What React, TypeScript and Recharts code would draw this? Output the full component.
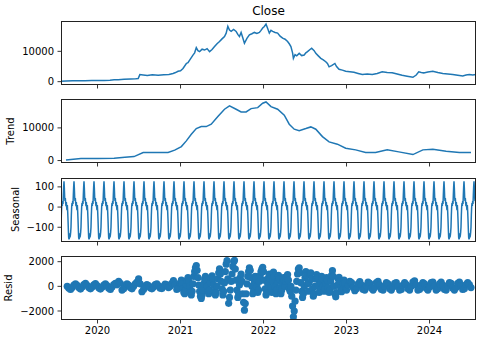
import { LineChart, Line, ScatterChart, Scatter, XAxis, YAxis } from 'recharts'

const BLUE = '#1f77b4'
const FONT = 'DejaVu Sans, sans-serif'

// shared time axis (fractional years)
const xDomain = [2019.56, 2024.56]
const yearTicks = [2020, 2021, 2022, 2023, 2024]

// Close (observed)
const closeYears = [
  2019.56, 2019.62, 2019.7, 2019.76, 2019.85, 2019.93, 2020.0, 2020.08, 2020.15, 2020.2,
  2020.25, 2020.32, 2020.4, 2020.46, 2020.49, 2020.51, 2020.55, 2020.6, 2020.66, 2020.73,
  2020.8, 2020.86, 2020.91, 2020.94, 2020.97, 2021.0, 2021.03, 2021.07, 2021.09, 2021.11,
  2021.15, 2021.17, 2021.19, 2021.21, 2021.23, 2021.26, 2021.29, 2021.32, 2021.35, 2021.38,
  2021.41, 2021.44, 2021.47, 2021.5, 2021.53, 2021.55, 2021.57, 2021.59, 2021.61, 2021.64,
  2021.67, 2021.69, 2021.71, 2021.73, 2021.75, 2021.77, 2021.8, 2021.83, 2021.86, 2021.89,
  2021.92, 2021.95, 2021.97, 2021.99, 2022.01, 2022.03, 2022.05, 2022.07, 2022.09, 2022.11,
  2022.14, 2022.17, 2022.2, 2022.23, 2022.26, 2022.29, 2022.31, 2022.33, 2022.35, 2022.36,
  2022.38, 2022.4, 2022.43, 2022.46, 2022.49, 2022.51, 2022.53, 2022.56, 2022.58, 2022.61,
  2022.63, 2022.66, 2022.69, 2022.72, 2022.75, 2022.77, 2022.79, 2022.82, 2022.86, 2022.88,
  2022.91, 2022.95, 2022.99, 2023.04, 2023.09, 2023.14, 2023.19, 2023.25, 2023.31, 2023.37,
  2023.43, 2023.49, 2023.55, 2023.61, 2023.67, 2023.73, 2023.8, 2023.84, 2023.87, 2023.9,
  2023.93, 2023.98, 2024.04, 2024.1, 2024.16, 2024.22, 2024.28, 2024.34, 2024.4, 2024.44,
  2024.48, 2024.52, 2024.56,
]
const closeValues = [
  100, 200, 280, 330, 300, 380, 370, 420, 500, 600,
  670, 800, 900, 950, 1000, 2330, 2200, 2050, 2250, 2100,
  2300, 2400, 2670, 3000, 3430, 3600, 4330, 6000, 6300, 7100,
  8770, 9500, 11230, 10200, 9900, 10700, 10430, 10900, 9900, 10600,
  11570, 12500, 13230, 14100, 14900, 16000, 18230, 17000, 16570, 17200,
  16570, 15600, 14900, 16230, 14500, 12670, 14300, 15430, 15800, 16230,
  15900, 16230, 16900, 17670, 18200, 19000, 17500, 16000, 16900, 16570,
  16200, 16000, 15000, 14330, 14000, 13230, 12500, 11570, 9500, 7670,
  8900, 8500, 9330, 8600, 8770, 9500, 9900, 10600, 11000, 10200,
  9330, 8500, 7670, 7200, 6570, 6000, 4900, 5300, 6000, 5000,
  4100, 3800, 3430, 3300, 3100, 2700, 2330, 2500, 2330, 2700,
  3230, 3000, 2900, 2500, 2100, 1800, 1430, 2200, 3230, 3000,
  2900, 3200, 3430, 3000, 2670, 2500, 2330, 2100, 1900, 2200,
  2330, 2200, 2330,
]

// Trend
const trendYears = [
  2019.62, 2019.8, 2020.0, 2020.2, 2020.33, 2020.44, 2020.55, 2020.69, 2020.85, 2020.93,
  2021.01, 2021.07, 2021.13, 2021.19, 2021.25, 2021.31, 2021.37, 2021.45, 2021.53, 2021.59,
  2021.67, 2021.73, 2021.79, 2021.85, 2021.93, 2021.99, 2022.03, 2022.09, 2022.17, 2022.25,
  2022.31, 2022.37, 2022.43, 2022.51, 2022.57, 2022.63, 2022.71, 2022.79, 2022.89, 2022.99,
  2023.11, 2023.23, 2023.35, 2023.49, 2023.63, 2023.8, 2023.92, 2024.04, 2024.2, 2024.36,
  2024.5,
]
const trendValues = [
  200, 600, 600, 730, 1040, 1220, 2450, 2450, 2450, 3180,
  4280, 6020, 8070, 9790, 10400, 10400, 11130, 13460, 15720, 16730,
  15720, 14890, 14890, 15900, 16210, 17550, 17950, 16510, 15720, 13880,
  11130, 9600, 9170, 9790, 10300, 9600, 7340, 5720, 5010, 3790,
  3270, 2450, 2450, 3270, 2660, 1830, 3270, 3490, 2870, 2450,
  2450,
]

// Seasonal: one 30-trading-day cycle, repeated over the daily index
const seasonalCycle = [
  -100, -40, 0, 20, 5, 30, 15, 60, 100, 128,
  95, 50, 30, 45, 20, 5, 25, 0, -15, 10,
  -20, -60, -110, -150, -160, -155, -130, -150, -140, -125,
]
const seasonalStart = 2019.56
const tradingDaysPerYear = 249
const seasonalCount = 1245

// Resid: calm stretch, sampled every 0.02 yr
const residEarlyStart = 2019.635
const residEarlyStep = 0.02
const residEarly = [
  0, -150, -250, -100, 100, 200, 80, -100, -220, -60,
  150, 250, 80, -100, -200, -50, 120, 220, 60, -120,
  -220, -80, 100, 200, 50, -150, -250, -60, 150, 250,
  120, 400, 250, -300, -200, 50, 200, 100, -100, -200,
  0, 200, 350, 600, 200, -440, -250, 0, 150, 50,
  -120, -200, -50, 150, 200, 30, -150, -180, 0, 180,
  120, -100, 0, 250, 460, 150, -250, -150, 200,
]

// Resid: volatile 2021-2022, sampled every 0.01 yr
const residMidStart = 2021.0
const residMidStep = 0.01
const residMid = [
  300, 500, 200, -200, -500, -600, -300, 100, 500, 700,
  400, 0, -400, -700, -400, 200, 800, 1200, 1500, 1680,
  1300, 700, 100, -400, -800, -980, -700, -300, 200, 600,
  800, 500, 0, -400, -600, -300, 300, 700, 860, 600,
  100, -400, -700, -500, 0, 600, 1100, 1420, 1000, 400,
  -200, -700, -400, 300, 1200, 1800, 2080, 600, -1380, -900,
  -300, 400, 1000, 1600, 2000, 2100, 1400, 500, -300, -900,
  -600, 100, 700, 1000, 400, -600, -1300, -1930, -1400, -600,
  200, 800, 1200, 1500, 1300, 700, 0, -600, -400, 300,
  800, 600, 0, -500, -300, 400, 900, 1200, 1400, 1540,
  1200, 500, -200, -700, -500, 200, 700, 1000, 600, -100,
  -500, 400, 1150, 800, 0, -600, -300, 400, 900, 600,
  -100, -600, -300, 300, 700, 500, 0, 400, 800, 950,
  500, -200, -400, 0, -800, -1600, -2470, -2000, -1200, -300,
  400, 1000, 1400, 1500, 1100, 300, -400, -900, -600, 0,
  700, 1200, 900, 200, -400, 300, 1000, 1100, 600, -200,
  -800, -600, 0, 600, 950, 700, 100, -500, -300, 300,
  800, 600, 0, -400, -200, 300, 700, 500, -100, -500,
  -300, 400, 900, 1270, 800, 0, -600, -850, -500, 100,
  600, 730, 400, -100, -440, -300, 200, 500, 300, -200,
]

// Resid: calm again from 2023, sampled every 0.02 yr
const residLateStart = 2023.0
const residLateStep = 0.02
const residLate = [
  -300, 100, 400, 300, -100, -350, -200, 200, 380, 100,
  -250, -300, 50, 350, 250, -150, -300, -100, 300, 400,
  100, -250, -300, 0, 300, 200, -200, -300, -50, 250,
  300, 0, -300, -250, 100, 300, 150, -200, -300, 0,
  350, 450, 100, -300, -250, 100, 300, 200, -150, -300,
  -50, 300, 350, 0, -300, -200, 200, 350, 100, -250,
  -300, 50, 300, 250, -150, -300, -100, 250, 350, 50,
  -250, -200, 150, 300, 150, -100,
]

const closeData = closeYears.map((x, i) => ({ x, y: closeValues[i] }))
const trendData = trendYears.map((x, i) => ({ x, y: trendValues[i] }))
const seasonalData = Array.from({ length: seasonalCount }, (_, i) => ({
  x: seasonalStart + i / tradingDaysPerYear,
  y: seasonalCycle[i % seasonalCycle.length],
}))
const residData = [
  ...residEarly.map((y, i) => ({ x: residEarlyStart + i * residEarlyStep, y })),
  ...residMid.map((y, i) => ({ x: residMidStart + i * residMidStep, y })),
  ...residLate.map((y, i) => ({ x: residLateStart + i * residLateStep, y })),
]

const PLOT_LEFT = 61
const PLOT_W = 415
const PLOT_H = 64
const panelTops = [21, 99, 177.5, 256]

const tickStyle = { fontSize: 10, fill: '#000', fontFamily: FONT }
const minus = (v: number) => String(v).replace('-', '\u2212')

function axes(yDomain: number[], yTicks: number[], showLabels: boolean) {
  return [
    <XAxis
      key="x"
      dataKey="x"
      type="number"
      domain={xDomain}
      ticks={yearTicks}
      interval={0}
      allowDataOverflow
      axisLine={false}
      tickLine={{ stroke: '#000', strokeWidth: 0.8 }}
      tickSize={3.5}
      tickMargin={3.5}
      height={showLabels ? 30 : 4}
      tick={tickStyle}
      tickFormatter={showLabels ? (v: number) => String(v) : () => ''}
    />,
    <YAxis
      key="y"
      dataKey="y"
      type="number"
      domain={yDomain}
      ticks={yTicks}
      interval={0}
      allowDataOverflow
      width={PLOT_LEFT}
      axisLine={false}
      tickLine={{ stroke: '#000', strokeWidth: 0.8 }}
      tickSize={3.5}
      tickMargin={3.5}
      tick={tickStyle}
      tickFormatter={minus}
    />,
  ]
}

const chartMargin = { top: 0, right: 480 - PLOT_LEFT - PLOT_W, bottom: 0, left: 0 }

function Box({ top }: { top: number }) {
  return (
    <div
      style={{
        position: 'absolute',
        left: PLOT_LEFT,
        top,
        width: PLOT_W,
        height: PLOT_H,
        border: '1px solid #222',
        boxSizing: 'border-box',
        pointerEvents: 'none',
      }}
    />
  )
}

export default function App() {
  return (
    <div style={{ position: 'absolute', left: 0, top: 0, width: 480, height: 341, background: '#fff' }}>
      <div style={{ position: 'absolute', left: 0, top: panelTops[0] }}>
        <LineChart width={480} height={PLOT_H + 4} data={closeData} margin={chartMargin}>
          {axes([-1100, 20000], [0, 10000], false)}
          <Line type="linear" dataKey="y" stroke={BLUE} strokeWidth={1.5} dot={false} isAnimationActive={false} />
        </LineChart>
      </div>
      <div style={{ position: 'absolute', left: 0, top: panelTops[1] }}>
        <LineChart width={480} height={PLOT_H + 4} data={trendData} margin={chartMargin}>
          {axes([-750, 18850], [0, 10000], false)}
          <Line type="linear" dataKey="y" stroke={BLUE} strokeWidth={1.5} dot={false} isAnimationActive={false} />
        </LineChart>
      </div>
      <div style={{ position: 'absolute', left: 0, top: panelTops[2] }}>
        <LineChart width={480} height={PLOT_H + 4} data={seasonalData} margin={chartMargin}>
          {axes([-173, 144], [-100, 0, 100], false)}
          <Line type="linear" dataKey="y" stroke={BLUE} strokeWidth={1.5} dot={false} isAnimationActive={false} />
        </LineChart>
      </div>
      <div style={{ position: 'absolute', left: 0, top: panelTops[3] }}>
        <ScatterChart width={480} height={PLOT_H + 30} margin={chartMargin}>
          {axes([-2730, 2460], [-2000, 0, 2000], true)}
          <Scatter
            data={residData}
            fill={BLUE}
            isAnimationActive={false}
            shape={(p: any) => <circle cx={p.cx} cy={p.cy} r={3.6} fill={BLUE} />}
          />
        </ScatterChart>
      </div>
      {panelTops.map((t) => (
        <Box key={t} top={t} />
      ))}
      <svg width={480} height={341} style={{ position: 'absolute', left: 0, top: 0, pointerEvents: 'none' }}>
        <text x={268.5} y={15} textAnchor="middle" fontSize={12} fontFamily={FONT} fill="#000">
          Close
        </text>
        <text x={13.5} y={131} textAnchor="middle" fontSize={10} fontFamily={FONT} fill="#000" transform="rotate(-90 13.5 131)">
          Trend
        </text>
        <text x={19} y={209.5} textAnchor="middle" fontSize={10} fontFamily={FONT} fill="#000" transform="rotate(-90 19 209.5)">
          Seasonal
        </text>
        <text x={11.5} y={288} textAnchor="middle" fontSize={10} fontFamily={FONT} fill="#000" transform="rotate(-90 11.5 288)">
          Resid
        </text>
      </svg>
    </div>
  )
}
